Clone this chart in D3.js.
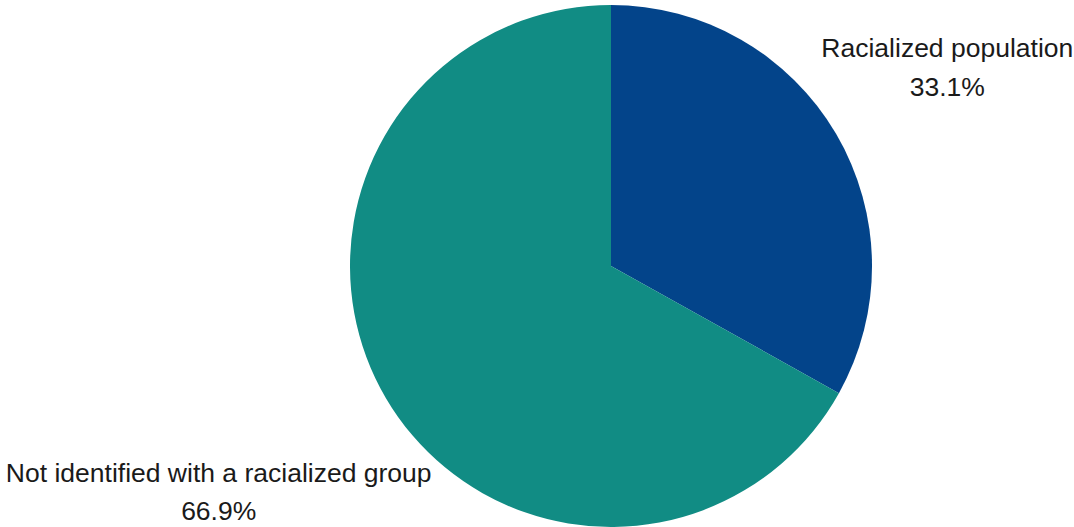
<!DOCTYPE html>
<html>
<head>
<meta charset="utf-8">
<script src="https://cdn.jsdelivr.net/npm/d3@7"></script>
<style>
  html, body { margin: 0; padding: 0; background: #fff; }
  svg { display: block; }
  text { font-family: "Liberation Sans", Arial, Helvetica, sans-serif; fill: #1a1a1a; }
</style>
</head>
<body>
<svg id="chart" width="1074" height="527"></svg>
<script>
// Population shares by racialized identity
const categories = ["Racialized population", "Not identified with a racialized group"];
const shares = [33.1, 66.9];
const valueLabels = ["33.1%", "66.9%"];
const colors = ["#03448A", "#118C84"];

const width = 1074, height = 527;
const cx = 611, cy = 266, radius = 261;

const svg = d3.select("#chart");
const g = svg.append("g").attr("transform", `translate(${cx},${cy})`);

const data = categories.map((c, i) => ({ name: c, value: shares[i], label: valueLabels[i], color: colors[i] }));

const pie = d3.pie().value(d => d.value).sort(null);
const arc = d3.arc().innerRadius(0).outerRadius(radius);
const labelArc = d3.arc().innerRadius(390).outerRadius(390);

const arcs = pie(data);

g.selectAll("path.slice")
  .data(arcs)
  .join("path")
  .attr("class", "slice")
  .attr("d", arc)
  .attr("fill", d => d.data.color);

// Labels sit outside the pie; the lower one is pulled inward to stay on the canvas
const nudges = [[0, 0], [-56, 31]];
const fontSize = 26.5, lineGaps = [39, 38];

const labels = g.selectAll("text.label")
  .data(arcs)
  .join("text")
  .attr("class", "label")
  .attr("text-anchor", "middle")
  .attr("font-size", fontSize)
  .attr("transform", (d, i) => {
    const [x, y] = labelArc.centroid(d);
    return `translate(${x + nudges[i][0]},${y + nudges[i][1]})`;
  });

labels.append("tspan")
  .attr("x", 0)
  .attr("y", -12)
  .text(d => d.data.name);

labels.append("tspan")
  .attr("x", 0)
  .attr("y", (d, i) => -12 + lineGaps[i])
  .text(d => d.data.label);
</script>
</body>
</html>
